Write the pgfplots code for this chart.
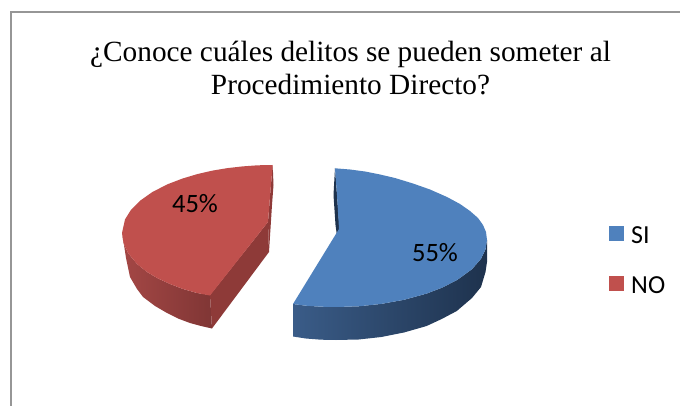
\documentclass[border=0pt]{standalone}
\usepackage{fontspec}
\setmainfont{Liberation Serif}
\newfontfamily\carl{Carlito}
\usepackage{pgfplots}
\pgfplotsset{compat=1.18}
\definecolor{blueT}{HTML}{4F81BD}
\definecolor{redT}{HTML}{C0504D}
\definecolor{blueL}{HTML}{3A5C88}
\definecolor{blueD}{HTML}{1E324D}
\definecolor{redL}{HTML}{A44745}
\definecolor{redD}{HTML}{803635}
\definecolor{redF}{HTML}{8E3A38}
\definecolor{frameC}{HTML}{969696}
\begin{document}
\begin{tikzpicture}
\useasboundingbox (0,0) rectangle (680pt,406pt);
\begin{axis}[
  at={(0,0)},anchor=south west,
  scale only axis,width=680pt,height=406pt,
  xmin=0,xmax=680,ymin=0,ymax=406,y dir=reverse,
  hide axis,
  legend cell align=left,
  legend style={at={(axis cs:609,224)},anchor=north west,draw=none,fill=none,
    font=\fontsize{26}{26}\selectfont\carl,row sep=28pt,inner sep=0pt,nodes={inner sep=2pt}},
  legend image code/.code={\fill[#1,draw=none] (0pt,-5.5pt) rectangle (15pt,9.5pt);\path (20pt,0pt);},
]
% frame
\addplot[forget plot,draw=frameC,line width=2pt] coordinates {(10.5,406)(10.5,12.3)(680,12.3)};
% red outer side
\addplot[forget plot,draw=none,left color=redL,right color=redD] coordinates {
(122,233)(124,245)(126,258)(130,277)(137,289)(143,297)(155,306)(167,313)(178,318.5)(190,323)(201,326)(212,328.5)
(210,295)(197,293)(183,289)(170,284)(157,278)(147,272)(137,264)(128,253)(123.5,243)} --cycle;
% red inner faces
\addplot[forget plot,fill=redF,draw=none] coordinates {(210,295)(212,328.5)(269,252)(268,222)} --cycle;
\addplot[forget plot,fill=redF,draw=none] coordinates {(272.7,165)(273.5,185)(272,205)(269,252)(268,222)(270.5,190)} --cycle;
% blue outer side
\addplot[forget plot,draw=none,left color=blueL,right color=blueD] coordinates {
(293,304)(293,336.5)(305.8,338.5)(321,339.7)(336,340)(358.7,339.5)(381.3,337)(404,332.5)(426.6,326)(441.7,319)(456.8,311)(472,298)(481,287)(485.5,272)(487,262)(487,240)
(485.5,249.4)(481,258.8)(472,269.2)(456.8,280.2)(441.7,287.8)(426.6,293.6)(404,299.8)(381.3,303.9)(358.7,306.3)(336,307)(321,306.7)(305.8,305.7)} --cycle;
% blue inner sliver
\addplot[forget plot,fill=blueD,draw=none] coordinates {(335,168)(333.5,195)(335.5,225)(337,236)(339.5,229)(337,195)} --cycle;
% blue top
\addplot[fill=blueT,draw=none] coordinates {
(335,168.3)(350,169.5)(365,171.5)(380,174.5)(395,178)(413,183.5)(430,189.5)(447,197)(460,204)(470,211)(478,218)(483,225)(486,232)(487,240)
(485.5,249.4)(481,258.8)(472,269.2)(456.8,280.2)(441.7,287.8)(426.6,293.6)(404,299.8)(381.3,303.9)(358.7,306.3)(336,307)(321,306.7)(305.8,305.7)(293,304)
(339,229)(337,195)} --cycle;
% red top
\addplot[fill=redT,draw=none] coordinates {
(272.7,165)(257.6,165.3)(242.6,166.4)(227.5,168.1)(212.4,170.6)(197.3,174.1)(182.3,178.6)(167.2,184.4)(152.1,192.2)(140.1,200.7)(131,209.8)(125,219.4)(122,233)
(123.5,243)(128,253)(137,264)(147,272)(157,278)(170,284)(183,289)(197,293)(210,295.5)
(268,222)(270.5,190)} --cycle;
\legend{SI,NO}
\node[font=\fontsize{29.3}{30}\selectfont,anchor=base] at (axis cs:350.5,62) {¿Conoce cuáles delitos se pueden someter al};
\node[font=\fontsize{29.3}{30}\selectfont,anchor=base] at (axis cs:350.5,95) {Procedimiento Directo?};
\node[font=\fontsize{26.5}{26}\selectfont\carl] at (axis cs:195,204) {45\%};
\node[font=\fontsize{26.5}{26}\selectfont\carl] at (axis cs:435,253) {55\%};
\end{axis}
\end{tikzpicture}
\end{document}
